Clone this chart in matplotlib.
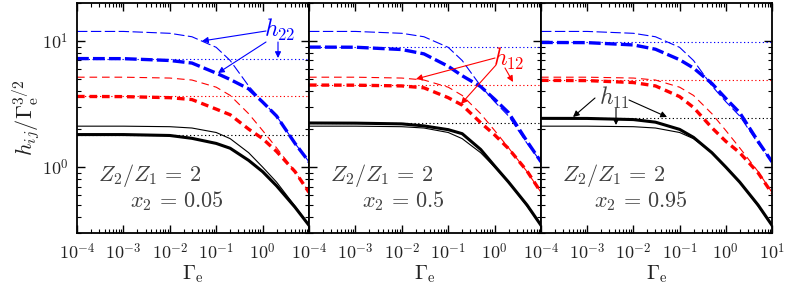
import numpy as np
import matplotlib
matplotlib.use("Agg")
import matplotlib.pyplot as plt
from matplotlib.ticker import LogLocator, NullFormatter, FixedLocator, FixedFormatter

plt.rcParams['mathtext.fontset'] = 'cm'
plt.rcParams['font.family'] = ['DejaVu Serif']
plt.rcParams['lines.scale_dashes'] = False

# ---- data ----
gamma = [1e-4, 1e-3, 1e-2, 3e-2, 0.1, 0.2, 0.5, 1, 2, 5, 10]

# thin lines (same in every panel)
thin11 = [2.11, 2.11, 2.09, 2.04, 1.88, 1.68, 1.30, 1.00, 0.76, 0.49, 0.345]
thin12 = [5.16, 5.16, 5.08, 4.90, 4.30, 3.70, 2.65, 1.95, 1.42, 0.92, 0.63]
thin22 = [11.9, 11.9, 11.5, 10.8, 8.9, 7.0, 4.4, 3.30, 2.54, 1.54, 1.10]

# thick lines, x2 = 0.05
thick11_a = [1.81, 1.81, 1.78, 1.69, 1.54, 1.41, 1.13, 0.92, 0.71, 0.48, 0.345]
thick12_a = [3.63, 3.62, 3.55, 3.43, 2.88, 2.60, 2.00, 1.68, 1.33, 0.92, 0.63]
thick22_a = [7.25, 7.24, 7.00, 6.68, 5.56, 4.95, 4.17, 3.28, 2.54, 1.54, 1.10]
# thick lines, x2 = 0.5
thick11_b = [2.236, 2.23, 2.20, 2.12, 1.98, 1.84, 1.38, 1.02, 0.76, 0.50, 0.345]
thick12_b = [4.47, 4.46, 4.40, 4.25, 3.55, 3.10, 2.25, 1.80, 1.40, 0.93, 0.63]
thick22_b = [8.94, 8.92, 8.55, 7.90, 6.30, 5.30, 4.35, 3.45, 2.70, 1.60, 1.10]
# thick lines, x2 = 0.95
thick11_c = [2.433, 2.43, 2.38, 2.27, 1.99, 1.72, 1.30, 1.00, 0.76, 0.50, 0.345]
thick12_c = [4.87, 4.85, 4.68, 4.40, 3.62, 2.97, 2.05, 1.60, 1.30, 0.90, 0.62]
thick22_c = [9.73, 9.70, 9.30, 8.60, 7.10, 6.10, 4.60, 3.50, 2.70, 1.60, 1.10]

x2_values = ["0.05", "0.5", "0.95"]
thick_sets = [(thick11_a, thick12_a, thick22_a),
              (thick11_b, thick12_b, thick22_b),
              (thick11_c, thick12_c, thick22_c)]

xticks = [1e-4, 1e-3, 1e-2, 1e-1, 1e0, 1e1]
xticklabels = ["$10^{-4}$", "$10^{-3}$", "$10^{-2}$", "$10^{-1}$", "$10^{0}$", "$10^{1}$"]
yticks = [1e0, 1e1]
yticklabels = ["$10^{0}$", "$10^{1}$"]

# ---- figure ----
W, H = 789, 288
fig = plt.figure(figsize=(W / 100, H / 100), dpi=100)
lefts = [77, 309, 541]
widths = [232, 232, 231]
top_px, bot_px = 3, 233

blue, red, black = '#0000ff', '#ff0000', '#000000'
txtgray = '#404040'

def fp(x, y):
    return (x / W, 1 - y / H)

axes = []
for i in range(3):
    ax = fig.add_axes([lefts[i] / W, (H - bot_px) / H, widths[i] / W, (bot_px - top_px) / H])
    axes.append(ax)
    ax.set_xscale('log')
    ax.set_yscale('log')
    t11, t12, t22 = thick_sets[i]

    # asymptote dotted lines
    for lev, c in [(t22[0], blue), (t12[0], red), (t11[0], black)]:
        ax.axhline(lev, color=c, lw=0.8, dashes=(0.9, 1.8))

    # thin lines
    ax.plot(gamma, thin22, color=blue, lw=0.8, dashes=(7.5, 2.5))
    ax.plot(gamma, thin12, color=red, lw=0.8, dashes=(5.5, 3.5))
    ax.plot(gamma, thin11, color=black, lw=0.8)
    # thick lines
    ax.plot(gamma, t22, color=blue, lw=2.4, dashes=(8.5, 3.0))
    ax.plot(gamma, t12, color=red, lw=2.4, dashes=(5.5, 3.5))
    ax.plot(gamma, t11, color=black, lw=2.2)

    ax.set_xlim(1e-4, 10)
    ax.set_ylim(0.3, 20)

    ax.xaxis.set_major_locator(FixedLocator(xticks))
    labs = list(xticklabels)
    if i < 2:
        labs[-1] = ""
    ax.xaxis.set_major_formatter(FixedFormatter(labs))
    ax.xaxis.set_minor_locator(LogLocator(base=10, subs=np.arange(2, 10), numticks=20))
    ax.xaxis.set_minor_formatter(NullFormatter())
    ax.yaxis.set_major_locator(FixedLocator(yticks))
    if i == 0:
        ax.yaxis.set_major_formatter(FixedFormatter(yticklabels))
    else:
        ax.yaxis.set_major_formatter(FixedFormatter(["", ""]))
    ax.yaxis.set_minor_locator(LogLocator(base=10, subs=np.arange(2, 10), numticks=20))
    ax.yaxis.set_minor_formatter(NullFormatter())

    ax.tick_params(which='both', direction='in', top=True, right=True,
                   labelsize=13, labelcolor='#222222')
    ax.tick_params(which='major', length=6, width=1.0)
    ax.tick_params(which='minor', length=3.2, width=0.8)
    ax.tick_params(axis='x', pad=7)
    ax.tick_params(axis='y', pad=6)
    for sp in ax.spines.values():
        sp.set_linewidth(1.3)

    ax.set_xlabel(r"$\Gamma_{\rm e}$", fontsize=15, color='#222222', labelpad=0)

    ax.text(0.09, 0.252, r"$Z_2/Z_1\,=\,2$", transform=ax.transAxes, fontsize=16,
            color=txtgray, ha='left', va='center')
    ax.text(0.228, 0.139, r"$x_2\,=\,%s$" % x2_values[i], transform=ax.transAxes,
            fontsize=16, color=txtgray, ha='left', va='center')

axes[0].set_ylabel(r"$h_{ij}/\Gamma_{\rm e}^{3/2}$", fontsize=16, color='#222222', labelpad=0)

# ---- annotations ----
def arrow(p0, p1, c):
    fig.add_artist(matplotlib.patches.FancyArrowPatch(
        fp(*p0), fp(*p1), transform=fig.transFigure, arrowstyle='-|>',
        mutation_scale=9, color=c, lw=0.8, shrinkA=0, shrinkB=0))

fig.text(*fp(280, 30), r"$h_{22}$", color=blue, fontsize=17, ha='center', va='center')
arrow((266, 31), (202, 41), blue)
arrow((266, 42), (218, 73), blue)
arrow((278, 42), (278, 58), blue)

fig.text(*fp(509, 59), r"$h_{12}$", color=red, fontsize=17, ha='center', va='center')
arrow((495, 58), (416, 79), red)
arrow((496, 65), (461, 104), red)
arrow((505, 68), (513, 82), red)

fig.text(*fp(614, 98), r"$h_{11}$", color=txtgray, fontsize=17, ha='center', va='center')
arrow((595, 98), (573, 117), black)
arrow((616, 108), (616, 125), black)
arrow((629, 100), (667, 117), black)

fig.savefig("out.png", dpi=100)
